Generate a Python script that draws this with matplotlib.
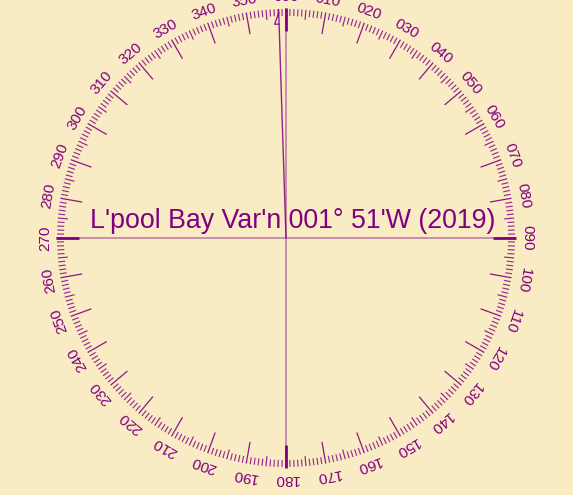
import numpy as np
import matplotlib
matplotlib.use("Agg")
import matplotlib.pyplot as plt

# compass data
label_bearings = list(range(0, 360, 10))
label_texts = ["%03d" % b for b in label_bearings]
variation = -(1 + 51 / 60.0)          # 001 deg 51' W
title = "L'pool Bay Var'n 001\u00b0 51'W (2019)"

purple = '#800080'
bg = '#F9EBC4'

R_OUT = 229
R_LAB = 241


def pt(bearing, r):
    a = np.radians(bearing)
    return r * np.sin(a), r * np.cos(a)


def seg(ax, bearing, r0, r1, **kw):
    x0, y0 = pt(bearing, r0)
    x1, y1 = pt(bearing, r1)
    ax.plot([x0, x1], [y0, y1], solid_capstyle='butt', **kw)


fig = plt.figure(figsize=(5.73, 4.95), dpi=100, facecolor=bg)
ax = fig.add_axes([0, 0, 1, 1])
ax.set_facecolor(bg)
ax.set_xlim(-286, 287)
ax.set_ylim(-257, 238)
ax.set_aspect('equal')
ax.axis('off')

plt.rcParams['font.family'] = ['Liberation Sans', 'DejaVu Sans']

# degree ticks
for b in range(360):
    if b % 90 == 0:
        continue
    if b % 10 == 0:
        seg(ax, b, 207, R_OUT, color=purple, lw=0.9, alpha=0.9)
    elif b % 5 == 0:
        seg(ax, b, 219, R_OUT, color=purple, lw=0.85, alpha=0.85)
    else:
        seg(ax, b, 222, R_OUT, color=purple, lw=0.85, alpha=0.8)

# cross lines (true)
ax.plot([-R_OUT, R_OUT], [0, 0], color=purple, lw=1.1, alpha=0.5)
ax.plot([0, 0], [-R_OUT, R_OUT], color=purple, lw=1.1, alpha=0.5)
for b in (0, 90, 180, 270):
    seg(ax, b, 207, R_OUT + 1, color=purple, lw=2.0)

# magnetic north line with half arrow head
seg(ax, variation, 0, R_OUT, color=purple, lw=1.0, alpha=0.85)
tip = pt(variation, 225)
base = pt(variation, 214)
perp = np.radians(variation - 90)
side = (base[0] + 4.5 * np.sin(perp), base[1] + 4.5 * np.cos(perp))
ax.plot([tip[0], side[0], base[0]], [tip[1], side[1], base[1]],
        color=purple, lw=1.0, alpha=0.85)

# bearing labels
for b, t in zip(label_bearings, label_texts):
    x, y = pt(b, R_LAB)
    ax.text(x, y, t, rotation=-b, rotation_mode='anchor',
            ha='center', va='center', fontsize=11, color=purple)

ax.text(7, 10, title, ha='center', va='baseline', fontsize=19.3,
        color=purple)

fig.savefig('out.png', dpi=100, facecolor=bg)
